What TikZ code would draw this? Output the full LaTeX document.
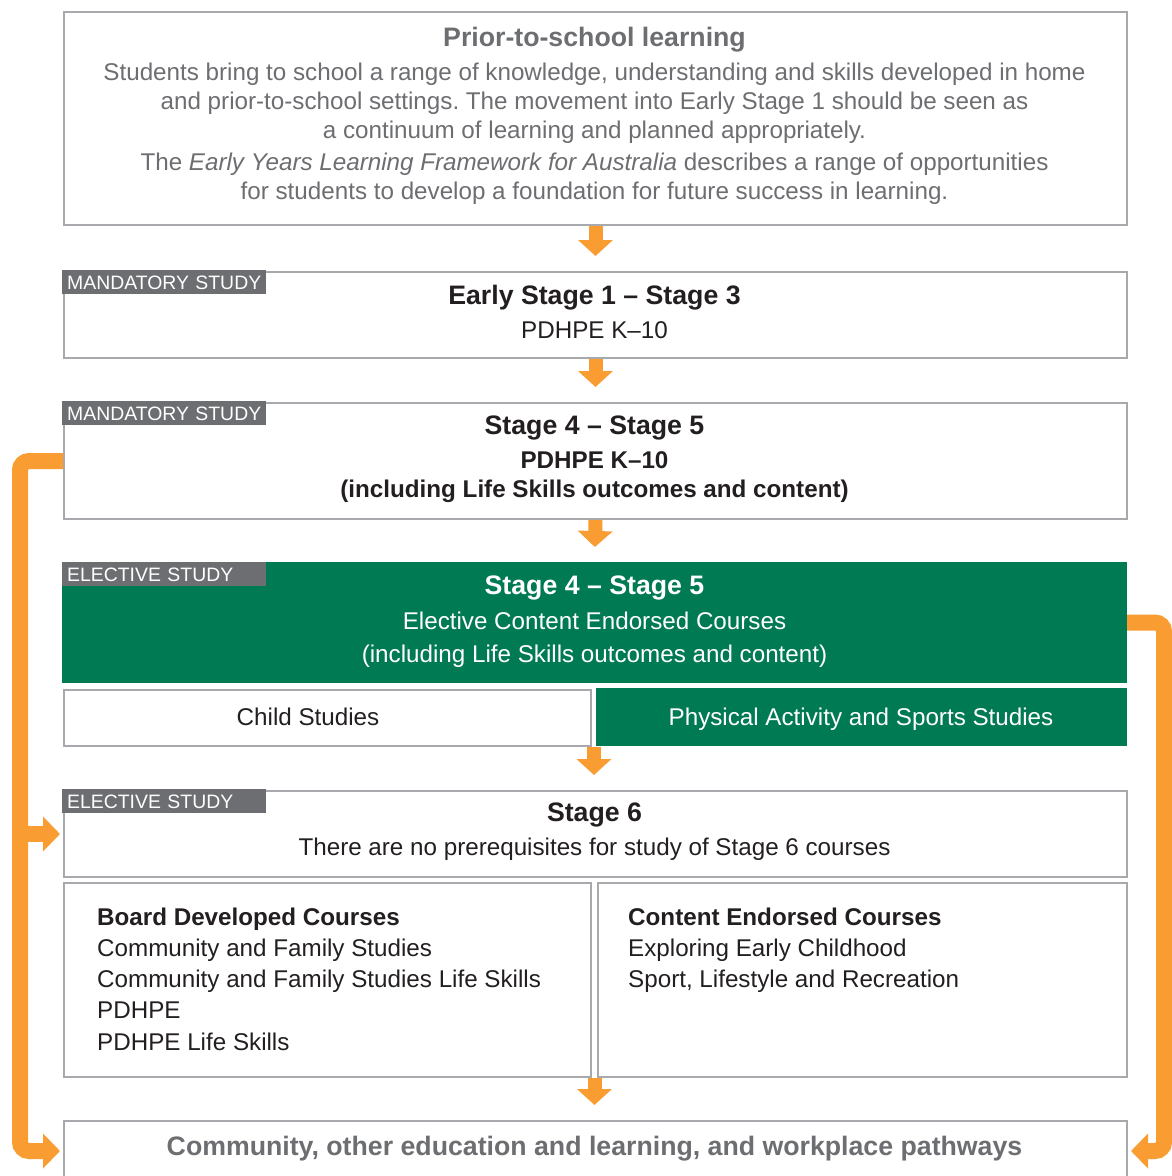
\documentclass[tikz,border=0pt]{standalone}
\usepackage{fontspec}
\setmainfont{Liberation Sans}
\usetikzlibrary{arrows.meta,calc}
\frenchspacing

\definecolor{frame}{HTML}{A7A9AC}
\definecolor{tagbg}{HTML}{6D6E71}
\definecolor{elective}{HTML}{007A53}
\definecolor{flowor}{HTML}{F99D33}
\definecolor{softtext}{HTML}{6D6E71}
\definecolor{inktext}{HTML}{231F20}

\newcommand{\fsbody}{\fontsize{24.2}{29}\selectfont}
\newcommand{\fshead}{\fontsize{26.7}{29}\selectfont\bfseries}

\tikzset{
  panel/.style={draw=frame, line width=2pt, fill=white, anchor=north west,
    inner sep=0pt, minimum width=#1},
  panel/.default=1063pt,
  greenpanel/.style={fill=elective, draw=none, anchor=north west, inner sep=0pt,
    outer sep=0pt},
  tagbox/.style={fill=tagbg, text=white, anchor=north west, inner xsep=0pt,
    inner ysep=0pt, text width=204pt, minimum height=24pt, text height=14pt,
    text depth=0pt, align=left, font=\fontsize{19.4}{20}\selectfont,
    execute at begin node=\hspace*{5pt}},
  headtxt/.style={font=\fshead, text=inktext, inner sep=0pt, anchor=base},
  bodytxt/.style={font=\fsbody, text=inktext, inner sep=0pt, anchor=base},
  listtxt/.style={font=\fsbody, text=inktext, inner sep=0pt, anchor=base west},
  downflow/.style={draw=flowor, line width=14pt,
    -{Triangle[width=34pt,length=16pt]}, shorten >=15pt},
  sideflow/.style={draw=flowor, line width=16pt, rounded corners=9pt,
    -{Triangle[width=34pt,length=17pt]}, shorten >=3pt},
}

\begin{document}
\begin{tikzpicture}[x=1pt,y=-1pt]
\clip (0,0) rectangle (1172,1176);
\fill[white] (0,0) rectangle (1172,1176);

% ---- prior-to-school ----
\node[panel, minimum height=213pt] (prior) at (63,11) {};
\node[headtxt, text=softtext] (priorhead) at (594.5,46) {Prior-to-school learning};
\node[bodytxt, text=softtext] (priorA1) at (594.5,80)
  {Students bring to school a range of knowledge, understanding and skills developed in home};
\node[bodytxt, text=softtext] (priorA2) at (594.5,109)
  {and prior-to-school settings. The movement into Early Stage 1 should be seen as};
\node[bodytxt, text=softtext] (priorA3) at (594.5,138)
  {a continuum of learning and planned appropriately.};
\node[bodytxt, text=softtext] (priorB1) at (594.5,170)
  {The \textit{Early Years Learning Framework for Australia} describes a range of opportunities};
\node[bodytxt, text=softtext] (priorB2) at (594.5,199)
  {for students to develop a foundation for future success in learning.};

% ---- Early Stage 1 - Stage 3 ----
\node[panel, minimum height=86pt] (es1) at (63,271) {};
\node[tagbox] (es1tag) at (62,270) {MANDATORY STUDY};
\node[headtxt] (es1head) at (594.5,304) {Early Stage 1 – Stage 3};
\node[bodytxt] (es1body) at (594.5,338) {PDHPE K–10};

% ---- Stage 4 - Stage 5 mandatory ----
\node[panel, minimum height=116pt] (s45) at (63,402) {};
\node[tagbox] (s45tag) at (62,401) {MANDATORY STUDY};
\node[headtxt] (s45head) at (594.5,434) {Stage 4 – Stage 5};
\node[bodytxt, font=\fsbody\bfseries] (s45body1) at (594.5,468) {PDHPE K–10};
\node[bodytxt, font=\fsbody\bfseries] (s45body2) at (594.5,497)
  {(including Life Skills outcomes and content)};

% ---- Stage 4 - Stage 5 elective ----
\node[greenpanel, minimum width=1065pt, minimum height=121pt] (el45) at (62,562) {};
\node[tagbox] (el45tag) at (62,562) {ELECTIVE STUDY};
\node[headtxt, text=white] (el45head) at (594.5,594) {Stage 4 – Stage 5};
\node[bodytxt, text=white] (el45body1) at (594.5,629) {Elective Content Endorsed Courses};
\node[bodytxt, text=white] (el45body2) at (594.5,662)
  {(including Life Skills outcomes and content)};

\node[panel=527pt, minimum height=56pt] (child) at (63,689) {};
\node[bodytxt] (childtxt) at (308,725) {Child Studies};
\node[greenpanel, minimum width=531pt, minimum height=58pt] (pass) at (596,688) {};
\node[bodytxt, text=white] (passtxt) at (861,725) {Physical Activity and Sports Studies};

% ---- Stage 6 ----
\node[panel, minimum height=86pt] (s6) at (63,790) {};
\node[tagbox] (s6tag) at (62,789) {ELECTIVE STUDY};
\node[headtxt] (s6head) at (594.5,821) {Stage 6};
\node[bodytxt] (s6body) at (594.5,855)
  {There are no prerequisites for study of Stage 6 courses};

\node[panel=527pt, minimum height=194pt] (board) at (63,882) {};
\node[listtxt, font=\fsbody\bfseries] (board0) at (97,925) {Board Developed Courses};
\node[listtxt] (board1) at (97,956.25) {Community and Family Studies};
\node[listtxt] (board2) at (97,987.5) {Community and Family Studies Life Skills};
\node[listtxt] (board3) at (97,1018.75) {PDHPE};
\node[listtxt] (board4) at (97,1050) {PDHPE Life Skills};

\node[panel=529pt, minimum height=194pt] (ce) at (597,882) {};
\node[listtxt, font=\fsbody\bfseries] (ce0) at (628,925) {Content Endorsed Courses};
\node[listtxt] (ce1) at (628,956.25) {Exploring Early Childhood};
\node[listtxt] (ce2) at (628,987.5) {Sport, Lifestyle and Recreation};

% ---- pathways ----
\node[panel, minimum height=60pt] (path) at (63,1120) {};
\node[headtxt, text=softtext] (pathtxt) at (594.5,1155)
  {Community, other education and learning, and workplace pathways};

% ---- flow arrows ----
\draw[downflow] (prior.south) -- (es1.north);
\draw[downflow] (es1.south) -- (s45.north);
\draw[downflow] (s45.south) -- (el45.north);
\coordinate (gapA) at ($(child.south east)!0.5!(pass.south west)$);
\draw[downflow] (gapA) -- (gapA |- s6.north);
\coordinate (gapB) at ($(board.south east)!0.5!(ce.south west)$);
\draw[downflow] (gapB) -- (gapB |- path.north);

\coordinate (leftrail) at (20,0);
\coordinate (rightrail) at (1164,0);
\draw[sideflow] (s45.west) -- (s45.west -| leftrail) |- (path.west);
\draw[sideflow] (s6.west -| leftrail) -- (s6.west);
\draw[sideflow] (el45.east) -- (el45.east -| rightrail) |- (path.east);
\end{tikzpicture}
\end{document}
